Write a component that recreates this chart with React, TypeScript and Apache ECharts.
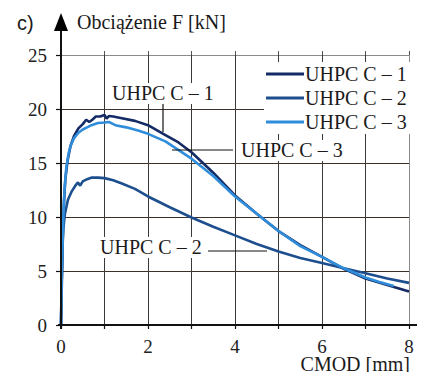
import React, { useEffect, useRef } from "react";
import * as echarts from "echarts";

const seriesNames = ["UHPC C – 1", "UHPC C – 2", "UHPC C – 3"];
const seriesColors = ["#142b66", "#1d4f8e", "#2f8ddb"];

const c1X = [0, 0.02, 0.04, 0.07, 0.1, 0.15, 0.22, 0.3, 0.4, 0.5, 0.58, 0.65, 0.72, 0.8, 0.9, 1.0, 1.05, 1.1, 1.2, 1.4, 1.7, 2.0, 2.35, 2.7, 3.0, 3.5, 4.0, 4.5, 5.0, 5.5, 6.0, 6.5, 7.0, 7.5, 8.0];
const c1Y = [0, 4, 8, 11.5, 13.5, 15.2, 16.6, 17.5, 18.2, 18.6, 19.0, 18.8, 19.0, 19.3, 19.3, 19.45, 19.1, 19.35, 19.3, 19.15, 18.9, 18.5, 17.7, 16.9, 16.0, 14.1, 12.0, 10.3, 8.7, 7.4, 6.3, 5.2, 4.3, 3.7, 3.1];

const c2X = [0, 0.01, 0.03, 0.05, 0.09, 0.16, 0.25, 0.33, 0.39, 0.44, 0.5, 0.6, 0.71, 0.85, 1.0, 1.2, 1.4, 1.7, 2.0, 2.5, 3.0, 3.5, 4.0, 4.5, 5.0, 5.5, 6.0, 6.5, 7.0, 7.5, 8.0];
const c2Y = [0, 3, 6.5, 8.8, 10.3, 11.6, 12.4, 12.9, 13.2, 12.9, 13.3, 13.5, 13.65, 13.65, 13.6, 13.4, 13.1, 12.6, 11.9, 10.9, 9.95, 9.1, 8.3, 7.5, 6.8, 6.2, 5.75, 5.25, 4.8, 4.3, 3.9];

const c3X = [0, 0.02, 0.05, 0.08, 0.12, 0.17, 0.22, 0.3, 0.4, 0.5, 0.6, 0.7, 0.85, 1.0, 1.1, 1.25, 1.5, 1.77, 2.0, 2.4, 3.0, 3.5, 4.0, 4.5, 5.0, 5.5, 6.0, 6.5, 7.0, 7.3, 7.65];
const c3Y = [0, 5, 9.5, 12.5, 14.5, 15.8, 16.6, 17.3, 17.8, 18.1, 18.3, 18.5, 18.7, 18.75, 18.8, 18.5, 18.3, 18.0, 17.7, 17.0, 15.4, 13.8, 11.9, 10.3, 8.7, 7.3, 6.3, 5.25, 4.4, 4.0, 3.6];

const xTicks = { min: 0, max: 8, interval: 1 };
const yTicks = { min: 0, max: 25, interval: 5 };

const serif = "Liberation Serif";
const sans = "Liberation Sans";

function pairs(xs: number[], ys: number[]) {
  return xs.map((x, i) => [x, ys[i]]);
}

export default function App() {
  const ref = useRef<HTMLDivElement>(null);
  useEffect(() => {
    if (!ref.current) return;
    const chart = echarts.init(ref.current, undefined, { renderer: "svg" });
    const data = [pairs(c1X, c1Y), pairs(c2X, c2Y), pairs(c3X, c3Y)];
    const txt = (text: string, x: number, y: number, align = "left", family = serif, size = 20) => ({
      type: "text",
      z: 20,
      style: { text, x, y, fontFamily: family, fontSize: size, fill: "#1a1a1a", align, verticalAlign: "middle" },
    });
    const box = (x: number, y: number, w: number, h: number) => ({
      type: "rect",
      z: 15,
      shape: { x, y, width: w, height: h },
      style: { fill: "#ffffff" },
    });
    const seg = (x1: number, y1: number, x2: number, y2: number, w = 1.2) => ({
      type: "line",
      z: 20,
      shape: { x1, y1, x2, y2 },
      style: { stroke: "#111", lineWidth: w },
    });
    chart.setOption({
      animation: false,
      backgroundColor: "#ffffff",
      grid: { left: 61, top: 55, right: 16, bottom: 55, containLabel: false },
      legend: {
        data: seriesNames.map((name) => ({ name, icon: "path://M0,0 L38,0 L38,2.8 L0,2.8 Z" })),
        orient: "vertical",
        left: 264,
        top: 62,
        itemWidth: 38,
        itemHeight: 14,
        itemGap: 4,
        padding: [2, 4, 2, 2],
        backgroundColor: "#ffffff",
        textStyle: { fontFamily: serif, fontSize: 20, color: "#1a1a1a", padding: [0, 0, 0, -4] },
      },
      xAxis: [
        {
          type: "value",
          ...xTicks,
          axisLine: { show: false },
          axisTick: { show: true, length: 4, lineStyle: { color: "#111", width: 1.2 } },
          axisLabel: {
            margin: 12,
            fontFamily: serif,
            fontSize: 19,
            color: "#222",
            formatter: (v: number) => (v % 2 === 0 ? String(v) : ""),
          },
          splitLine: {
            show: true,
            lineStyle: {
              color: ["#333", "#3a3a3a", "#3a3a3a", "#3a3a3a", "#3a3a3a", "#3a3a3a", "#3a3a3a", "#3a3a3a", "#8a8a8a"],
              width: 1,
            },
          },
        },
        {
          type: "value",
          position: "top",
          ...xTicks,
          axisLine: { show: false },
          axisTick: { show: true, length: 4, lineStyle: { color: "#555", width: 1 } },
          axisLabel: { show: false },
          splitLine: { show: false },
        },
      ],
      yAxis: {
        type: "value",
        ...yTicks,
        axisLine: { show: false },
        axisTick: { show: true, length: 5, lineStyle: { color: "#111", width: 1.2 } },
        axisLabel: { margin: 14, fontFamily: serif, fontSize: 19, color: "#222" },
        splitLine: {
          show: true,
          lineStyle: { color: ["#333", "#3d302b", "#3d302b", "#3d302b", "#3d302b", "#8a8a8a"], width: 1 },
        },
      },
      series: seriesNames.map((name, i) => ({
        name,
        type: "line",
        xAxisIndex: 0,
        data: data[i],
        showSymbol: false,
        symbol: "none",
        smooth: false,
        z: i === 2 ? 3 : 2,
        lineStyle: { color: seriesColors[i], width: 2.6 },
        itemStyle: { color: seriesColors[i] },
      })),
      graphic: [
        seg(61, 329, 61, 28, 2),
        { type: "polygon", z: 20, shape: { points: [[61, 13], [54, 31], [68, 31]] }, style: { fill: "#000" } },
        seg(58, 325, 418, 325, 2),
        { type: "polygon", z: 20, shape: { points: [[417, 316], [417, 334], [436, 325]] }, style: { fill: "#000" } },
        txt("c)", 17, 23, "left", sans, 20),
        txt("Obciążenie F [kN]", 77, 22),
        txt("CMOD [mm]", 410, 364, "right"),
        box(110, 83, 104, 21),
        txt("UHPC C – 1", 112, 93),
        seg(163, 104, 163, 132),
        box(239, 140, 106, 21),
        txt("UHPC C – 3", 241, 150),
        seg(172, 150, 233, 150),
        box(98, 237, 104, 21),
        txt("UHPC C – 2", 100, 247),
        seg(208, 251, 267, 251),
      ],
    });
    return () => chart.dispose();
  }, []);
  return <div ref={ref} style={{ width: 425, height: 380, margin: -8 }} />;
}
